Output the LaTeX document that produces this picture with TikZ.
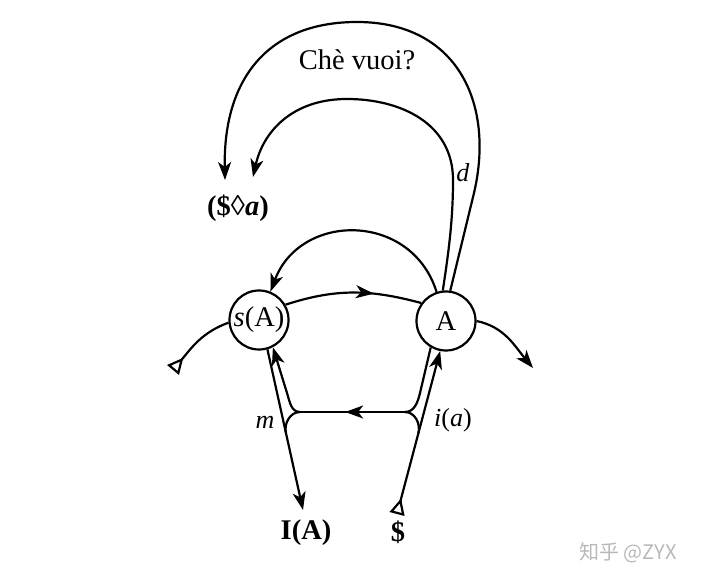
\documentclass[tikz,border=0pt]{standalone}
\usepackage{fontspec}
\setmainfont{Liberation Serif}
\newfontfamily\cjkfont{Noto Sans CJK SC}
\usetikzlibrary{arrows.meta,decorations.markings,calc}
\tikzset{
  circ/.style={circle, draw, minimum size=59pt, inner sep=0pt},
  arr/.style={-{Stealth[length=18pt,width=13pt,inset=5pt]}},
  tri/.style={arrows={{Triangle[open,reversed,length=16pt,width=15pt]}-}},
  triarr/.style={arrows={{Triangle[open,reversed,length=16pt,width=15pt]}-{Stealth[length=18pt,width=13pt,inset=5pt]}}},
  midarrow/.style={postaction={decorate}, decoration={markings, mark=at position #1 with {\arrow{Stealth[length=18pt,width=13pt,inset=5pt]}}}},
  big/.style={font=\fontsize{28.5}{31}\selectfont},
  small/.style={font=\fontsize{26}{28}\selectfont}
}
\begin{document}
\begin{tikzpicture}[x=1pt,y=1pt,line width=2.2pt]
\useasboundingbox (0,0) rectangle (706,583);
\node[circ,big] (sA) at (259,263) {\textit{s}(A)};
\node[circ,big] (A) at (446,262) {A};
\coordinate (t1) at (173,213);
\coordinate (e1) at (533,215);
\coordinate (e2) at (253,406);
\coordinate (e3) at (225,403);
\coordinate (ip1) at (453,403);
\coordinate (itop) at (347,484);
\coordinate (oc) at (474,390);
\coordinate (otop) at (357,561);
\coordinate (hl) at (300,171);
\coordinate (hr) at (405,171);
\coordinate (ul) at (287,190);
\coordinate (ur) at (420,190);
\coordinate (i1) at (303,73);
\coordinate (s1) at (397,69);
\coordinate (jl) at ($(sA.-74)!0.52!(i1)$);
\coordinate (jr) at ($(s1)!0.495!(A.-101)$);

% main line
\draw[tri] (t1) to[out=50,in=200] (sA.185);
\draw[midarrow=0.65] (sA.30) to[out=18,in=165] (A.144);
\draw[arr] (A.0) to[out=-12,in=130] (e1);
% return arc
\draw[arr] (A.108) .. controls +(-25,80) and +(30,80) .. (sA.68);
% upper loops
\draw[arr] (A.96) .. controls +(6,40) and +(0,-40) .. (ip1)
  .. controls +(0,57) and +(53,0) .. (itop)
  .. controls +(-55,0) and +(10,45) .. (e2);
\draw[arr] (A.82) -- (oc) .. controls +(21,90) and +(100,0) .. (otop)
  .. controls +(-90,0) and +(-2,100) .. (e3);
% lower part
\draw[arr] (sA.-74) -- (i1);
\draw[triarr] (s1) -- (A.-101);
\draw[midarrow=0.57] (hr) -- (hl);
\draw[arr] (hl) to[out=180,in=-72.6] (ul) -- (sA.-63);
\draw (hl) to[out=180,in=102.5] (jl);
\draw (hr) to[out=0,in=-103.4] (ur) -- (A.-120);
\draw (hr) to[out=0,in=75.2] (jr);

% labels
\node[big] (cv) at (357,523) {Chè vuoi?};
\node[big] (fan) at (238,375) {\textbf{(\$◊\textit{a})}};
\node[small] (dl) at (463,410) {\textit{d}};
\node[small] (ml) at (265,161) {\textit{m}};
\node[small] (ial) at (453,163) {\textit{i}(\textit{a})};
\node[big] (IA) at (306,50) {\textbf{I(A)}};
\node[big] (S) at (398,51) {\textbf{\$}};
\node[text=black!28, font=\cjkfont\fontsize{20}{22}\selectfont] (wm) at (628,30) {知乎 @ZYX};
\end{tikzpicture}
\end{document}
